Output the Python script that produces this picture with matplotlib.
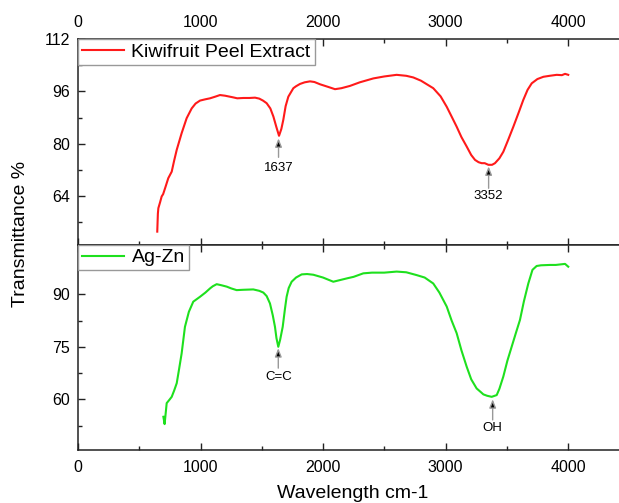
import matplotlib
matplotlib.use("Agg")
import matplotlib.pyplot as plt
from matplotlib.ticker import MultipleLocator

plt.rcParams['font.family'] = ['Liberation Sans', 'DejaVu Sans']

# Kiwifruit Peel Extract (red, top panel)
kiwi_x = [647, 652, 656, 670, 683, 695, 715, 737, 765, 785, 806, 846, 887, 928, 960, 996,
          1040, 1078, 1120, 1159, 1200, 1265, 1300, 1350, 1400, 1445, 1480, 1510, 1540,
          1570, 1595, 1620, 1641, 1660, 1676, 1695, 1717, 1758, 1780, 1812, 1850, 1894,
          1930, 1976, 2050, 2098, 2150, 2220, 2300, 2411, 2500, 2601, 2680, 2737, 2800,
          2900, 2960, 3010, 3050, 3091, 3130, 3173, 3210, 3241, 3270, 3295, 3320, 3350,
          3380, 3404, 3440, 3472, 3510, 3554, 3600, 3635, 3670, 3704, 3750, 3799, 3850,
          3908, 3950, 3976, 4002]
kiwi_y = [53.0, 58.5, 60.2, 62.0, 63.8, 64.5, 66.8, 69.4, 71.4, 74.8, 78.1, 83.2, 87.8, 90.8,
          92.3, 93.2, 93.6, 93.9, 94.4, 94.9, 94.7, 94.2, 93.9, 94.0, 94.0, 94.1, 93.8, 93.2,
          92.4, 90.8, 88.3, 85.0, 82.4, 84.5, 87.3, 91.5, 94.4, 97.0, 97.6, 98.3, 98.8, 99.1,
          98.9, 98.2, 97.3, 96.7, 97.0, 97.7, 98.8, 100.0, 100.6, 101.1, 100.8, 100.3, 99.3,
          97.0, 94.5, 91.3, 88.3, 85.2, 82.0, 79.1, 76.5, 75.0, 74.3, 74.0, 74.0, 73.5,
          73.5, 74.0, 75.5, 77.5, 81.0, 85.2, 89.8, 93.4, 96.5, 98.5, 99.8, 100.5, 100.8,
          101.1, 101.0, 101.4, 101.1]

# Ag-Zn (green, bottom panel)
agzn_x = [697, 707, 724, 745, 765, 785, 806, 826, 846, 873, 905, 941, 996, 1040, 1078, 1100,
          1132, 1170, 1214, 1250, 1295, 1350, 1431, 1480, 1513, 1540, 1567, 1590, 1608,
          1620, 1635, 1650, 1671, 1690, 1703, 1720, 1744, 1780, 1826, 1870, 1921, 2000,
          2084, 2200, 2250, 2329, 2400, 2500, 2601, 2680, 2764, 2830, 2900, 2950, 3010,
          3050, 3091, 3130, 3173, 3210, 3254, 3290, 3309, 3340, 3377, 3418, 3440, 3472,
          3505, 3540, 3575, 3608, 3640, 3676, 3710, 3744, 3780, 3853, 3900, 3976, 4002]
agzn_y = [55.0, 52.9, 58.9, 59.8, 60.7, 62.5, 64.6, 68.8, 73.1, 80.7, 85.0, 87.9, 89.3, 90.5,
          91.7, 92.3, 92.9, 92.6, 92.2, 91.7, 91.2, 91.3, 91.4, 91.0, 90.5, 89.5, 87.4, 84.0,
          80.7, 77.5, 75.0, 77.0, 80.7, 86.0, 89.3, 91.8, 93.6, 94.8, 95.7, 95.8, 95.6, 94.8,
          93.6, 94.6, 95.0, 96.0, 96.2, 96.2, 96.5, 96.3, 95.5, 94.8, 93.1, 90.5, 86.5,
          82.5, 78.9, 74.0, 69.3, 65.7, 63.1, 62.0, 61.4, 61.0, 60.7, 61.2, 63.0, 66.5,
          71.0, 75.0, 79.0, 82.7, 88.0, 93.1, 97.0, 98.1, 98.3, 98.4, 98.4, 98.7, 97.9]

top_label = "Kiwifruit Peel Extract"
bot_label = "Ag-Zn"

# annotations: (text, x, arrow tip y, tail y, text y)
top_ann = [("1637", 1637, 81.6, 75.8, 72.5), ("3352", 3352, 73.0, 66.3, 64.0)]
bot_ann = [("C=C", 1635, 74.6, 68.9, 66.3), ("OH", 3385, 60.0, 54.1, 51.7)]

W, H = 619, 503
fig = plt.figure(figsize=(W / 100, H / 100), dpi=100)

left = 78 / W
xmax = 4500
width = (xmax / 1000 * 122.5) / W
ax1 = fig.add_axes([left, 1 - 245 / H, width, 205.7 / H])
ax2 = fig.add_axes([left, 1 - 450 / H, width, 205 / H])

spine_c = '#222222'
for ax in (ax1, ax2):
    ax.set_xlim(0, xmax)
    ax.xaxis.set_major_locator(MultipleLocator(1000))
    ax.xaxis.set_minor_locator(MultipleLocator(500))
    for s in ax.spines.values():
        s.set_linewidth(1.1)
        s.set_color(spine_c)
    ax.tick_params(which='both', direction='in', colors=spine_c, labelcolor='black',
                   labelsize=11.5, width=1.0)
    ax.tick_params(which='major', length=5)
    ax.tick_params(which='minor', length=3)
    ax.tick_params(axis='x', pad=7)
    ax.tick_params(axis='y', pad=6)

ax1.plot(kiwi_x, kiwi_y, color='#ff1a1a', lw=1.5, label=top_label)
ax1.set_ylim(48.9, 112)
ax1.set_yticks([64, 80, 96, 112])
ax1.yaxis.set_minor_locator(MultipleLocator(8))
ax1.tick_params(axis='x', which='both', top=True, bottom=True, labeltop=True, labelbottom=False)

ax2.plot(agzn_x, agzn_y, color='#1ee01e', lw=1.5, label=bot_label)
ax2.set_ylim(45.5, 104.1)
ax2.set_yticks([60, 75, 90])
ax2.yaxis.set_minor_locator(MultipleLocator(7.5))
ax2.tick_params(axis='x', which='both', top=True, bottom=True, labeltop=False, labelbottom=True)

for ax, anns in ((ax1, top_ann), (ax2, bot_ann)):
    for txt, x, tip, tail, ty in anns:
        ax.annotate('', xy=(x, tip), xytext=(x, tail),
                    arrowprops=dict(arrowstyle='-|>,head_length=0.5,head_width=0.2',
                                    fc='black', ec='#999999', lw=1.0,
                                    shrinkA=0, shrinkB=0))
        ax.text(x, ty, txt, ha='center', va='center', fontsize=9.5)

for ax in (ax1, ax2):
    leg = ax.legend(loc='upper left', bbox_to_anchor=(0, 1), borderaxespad=0,
                    fontsize=14, fancybox=False, framealpha=1, edgecolor='#999999',
                    handlelength=2.15, handletextpad=0.4, borderpad=0.2)
    leg.get_frame().set_linewidth(1.0)

fig.text(21 / W, 1 - 234 / H, 'Transmittance %', rotation=90, ha='center', va='center',
         fontsize=14)
fig.text(353 / W, 1 - 498 / H, 'Wavelength cm-1', ha='center', va='baseline', fontsize=14)

fig.savefig('out.png', dpi=100)
